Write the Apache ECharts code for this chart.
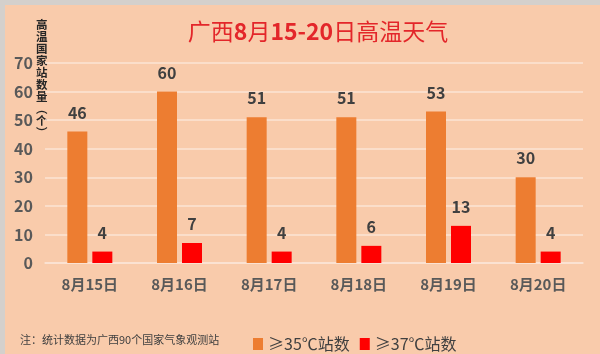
<!DOCTYPE html>
<html>
<head>
<meta charset="utf-8">
<script src="https://cdn.jsdelivr.net/npm/echarts@6/dist/echarts.min.js"></script>
<style>
  html, body { margin: 0; padding: 0; background: #d8d4d0; }
  #chart { width: 600px; height: 354px; }
</style>
</head>
<body>
<div id="chart"></div>
<script>
// categories and values
const dates = ["8月15日", "8月16日", "8月17日", "8月18日", "8月19日", "8月20日"];
const over35 = [46, 60, 51, 51, 53, 30];
const over37 = [4, 7, 4, 6, 13, 4];
const seriesNames = ["≥35℃站数", "≥37℃站数"];
const yTitle = "高温国家站数量︵个︶";
const note = "注：统计数据为广西90个国家气象观测站";

const chart = echarts.init(document.getElementById("chart"));

const labelStyle = {
  show: true,
  position: "top",
  distance: 11,
  fontSize: 16,
  fontWeight: "bold",
  color: "#404040",
  fontFamily: "Noto Sans CJK SC",
};

const titleFont = { color: "#e3262a", fontSize: 23, fontFamily: "Noto Sans CJK SC" };

const option = {
  backgroundColor: "#f9cbab",
  animation: false,
  title: {
    // digits are bold in the original, the hanzi are not
    text: "{n|广西}{b|8}{n|月}{b|15-20}{n|日高温天气}",
    left: 313,
    textAlign: "center",
    top: 15,
    textStyle: {
      rich: {
        n: { ...titleFont, fontWeight: "normal" },
        b: { ...titleFont, fontWeight: "bold" },
      },
    },
  },
  grid: { left: 45, right: 17, top: 63, bottom: 91 },
  legend: {
    left: 248,
    top: 331,
    icon: "rect",
    itemWidth: 10,
    itemHeight: 12,
    itemGap: 10,
    data: seriesNames,
    textStyle: {
      fontSize: 16,
      color: "#404040",
      fontFamily: "Noto Sans CJK SC",
    },
  },
  xAxis: {
    type: "category",
    data: dates,
    axisLine: { lineStyle: { color: "#fbe4d5", width: 1.5 } },
    axisTick: { show: false },
    axisLabel: {
      margin: 14,
      fontSize: 15,
      fontWeight: "bold",
      color: "#595959",
      fontFamily: "Noto Sans CJK SC",
    },
  },
  yAxis: {
    type: "value",
    min: 0,
    max: 70,
    interval: 10,
    axisLine: { show: false },
    axisTick: { show: false },
    splitLine: { lineStyle: { color: "#fbe4d5", width: 1.5 } },
    axisLabel: {
      margin: 12,
      fontSize: 16,
      fontWeight: "bold",
      color: "#595959",
      fontFamily: "Noto Sans CJK SC",
    },
  },
  series: [
    {
      name: seriesNames[0],
      type: "bar",
      data: over35,
      barWidth: 20,
      barGap: "25%",
      itemStyle: { color: "#ed7d31" },
      label: labelStyle,
    },
    {
      name: seriesNames[1],
      type: "bar",
      data: over37,
      barWidth: 20,
      itemStyle: { color: "#ff0000" },
      label: labelStyle,
    },
  ],
  graphic: [
    {
      type: "rect",
      left: 0,
      top: 0,
      shape: { width: 600, height: 354 },
      style: { fill: "none", stroke: "#d4d0cc", lineWidth: 5 },
      silent: true,
    },
    {
      type: "text",
      left: 36,
      top: 19,
      style: {
        text: yTitle.split("").join("\n"),
        fontSize: 11.5,
        lineHeight: 12,
        fontWeight: "bold",
        fill: "#262626",
        fontFamily: "Noto Sans CJK SC",
        align: "center",
      },
    },
    {
      type: "text",
      left: 20,
      top: 334,
      style: {
        text: note,
        fontSize: 11,
        fill: "#404040",
        fontFamily: "Noto Sans CJK SC",
      },
    },
  ],
};

chart.setOption(option);
</script>
</body>
</html>
